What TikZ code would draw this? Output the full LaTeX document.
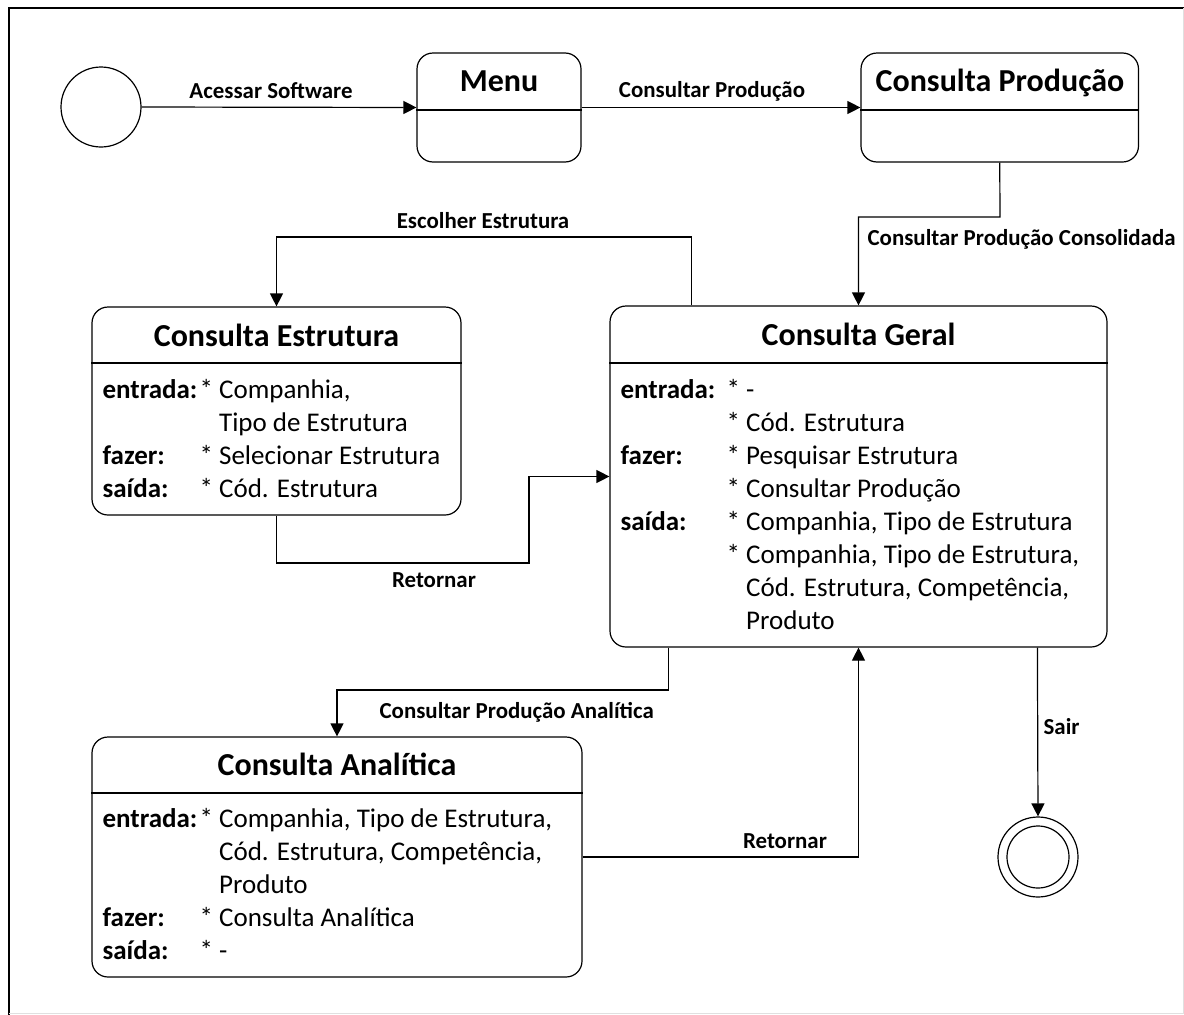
\documentclass[tikz,border=0pt]{standalone}
\usepackage{fontspec}
\setmainfont{Carlito}
\usetikzlibrary{arrows.meta}
% fixed-width bold keyword column for the compartment text
\newcommand\kw[2]{\makebox[#1][l]{\bfseries #2}}
\begin{document}
\begin{tikzpicture}[x=1pt,y=-1pt,
  line width=1.2pt,
  statebox/.style={draw, rounded corners=16pt, inner sep=0pt},
  arr/.style={-{Triangle[length=13pt,width=13pt]}},
  lbl/.style={font=\fontsize{22.9}{27}\selectfont\bfseries, inner sep=0pt, anchor=base},
  ttl/.style={font=\fontsize{32}{38}\selectfont\bfseries, inner sep=0pt, anchor=base},
  bodytext/.style={font=\fontsize{27}{33}\selectfont, inner sep=0pt, anchor=base west},
  pseudo/.style={circle, draw, inner sep=0pt}
]
\useasboundingbox (0,0) rectangle (1184,1015);

% outer frame
\draw[line width=1.6pt] (9,1015) -- (9,8) -- (1184,8);
\draw[line width=0.8pt, black!12] (1183,8) -- (1183,1013) -- (9,1013);

% pseudo states
\node[pseudo, minimum size=80pt] (init) at (101,107) {};
\node[pseudo, minimum size=80pt] (final) at (1038,857) {};
\node[pseudo, minimum size=62pt] (finalin) at (1038,857) {};

% state boxes
\node[statebox, minimum width=164pt, minimum height=109pt] (menu) at (499,107.5) {};
\node[statebox, minimum width=277.5pt, minimum height=109pt] (prod) at (999.75,107.5) {};
\node[statebox, minimum width=369pt, minimum height=208pt] (estr) at (276.5,411) {};
\node[statebox, minimum width=497pt, minimum height=341pt] (geral) at (858.5,476.5) {};
\node[statebox, minimum width=490pt, minimum height=240pt] (anal) at (337,857) {};

% compartment dividers
\draw (menu.west |- 0,110) -- (menu.east |- 0,110);
\draw (prod.west |- 0,110) -- (prod.east |- 0,110);
\draw (estr.west |- 0,363) -- (estr.east |- 0,363);
\draw (geral.west |- 0,363) -- (geral.east |- 0,363);
\draw (anal.west |- 0,793) -- (anal.east |- 0,793);

% titles
\node[ttl] (menuT) at (499,91) {Menu};
\node[ttl] (prodT) at (1000,91) {Consulta Produção};
\node[ttl] (estrT) at (276.5,346) {Consulta Estrutura};
\node[ttl] (geralT) at (858.5,345) {Consulta Geral};
\node[ttl] (analT) at (337,775) {Consulta Analítica};

% compartment contents
\node[bodytext] (estrB) at (102,398) {\begin{tabular}[t]{@{}l@{}}
\kw{97pt}{entrada:}* Companhia,\\
\kw{97pt}{}\phantom{*} Tipo de Estrutura\\
\kw{97pt}{fazer:}* Selecionar Estrutura\\
\kw{97pt}{saída:}* Cód. Estrutura
\end{tabular}};
\node[bodytext] (geralB) at (620,398) {\begin{tabular}[t]{@{}l@{}}
\kw{106pt}{entrada:}* -\\
\kw{106pt}{}* Cód. Estrutura\\
\kw{106pt}{fazer:}* Pesquisar Estrutura\\
\kw{106pt}{}* Consultar Produção\\
\kw{106pt}{saída:}* Companhia, Tipo de Estrutura\\
\kw{106pt}{}* Companhia, Tipo de Estrutura,\\
\kw{106pt}{}\phantom{*} Cód. Estrutura, Competência,\\
\kw{106pt}{}\phantom{*} Produto
\end{tabular}};
\node[bodytext] (analB) at (102,827) {\begin{tabular}[t]{@{}l@{}}
\kw{97pt}{entrada:}* Companhia, Tipo de Estrutura,\\
\kw{97pt}{}\phantom{*} Cód. Estrutura, Competência,\\
\kw{97pt}{}\phantom{*} Produto\\
\kw{97pt}{fazer:}* Consulta Analítica\\
\kw{97pt}{saída:}* -
\end{tabular}};

% bend points of the routed transitions
\coordinate (bConsol) at (1000,217);
\coordinate (bEscolher) at (276.5,237);
\coordinate (bRet) at (529,563);
\coordinate (bAnal) at (337,690);

% transitions
\draw[arr] (init.east) -- (menu.west);
\draw[arr] (menu.east) -- (prod.west);
\draw[arr] (prod.south) -- (bConsol) -| (geral.north);
\draw[arr] ([xshift=82pt]geral.north west) |- (bEscolher) -- (estr.north);
\draw[arr] (estr.south) |- (bRet) |- (geral.west);
\draw[arr] ([xshift=59pt]geral.south west) |- (bAnal) -- (anal.north);
\draw[arr] (anal.east) -| (geral.south);
\draw[arr] ([xshift=428pt]geral.south west) -- (final.north);

% transition labels
\node[lbl] (lAcessar) at (271,98) {Acessar Software};
\node[lbl] (lConsProd) at (712,97) {Consultar Produção};
\node[lbl, anchor=base west] (lConsol) at (867,245) {Consultar Produção Consolidada};
\node[lbl] (lEscolher) at (483,228) {Escolher Estrutura};
\node[lbl] (lRet1) at (434,587) {Retornar};
\node[lbl, anchor=base west] (lAnal) at (379,718) {Consultar Produção Analítica};
\node[lbl] (lRet2) at (785,848) {Retornar};
\node[lbl, anchor=base west] (lSair) at (1043,734) {Sair};
\end{tikzpicture}
\end{document}
